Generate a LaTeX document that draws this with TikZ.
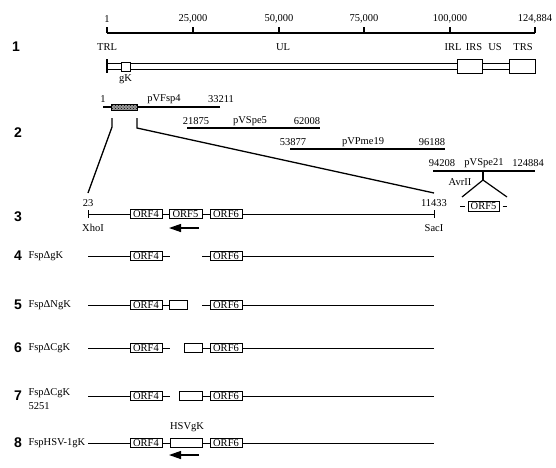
\documentclass[tikz,border=0pt]{standalone}
\usepackage{fontspec}
\setmainfont{Liberation Serif}
\newfontfamily\rowfont{Liberation Sans}
\usetikzlibrary{arrows.meta}
\usetikzlibrary{patterns}

\begin{document}
\begin{tikzpicture}[x=1pt,y=-1pt,line width=1pt,font=\fontsize{10.5}{11}\selectfont,
    lbl/.style={inner sep=0pt},
    num/.style={inner sep=0pt,font=\rowfont\bfseries\fontsize{14}{14}\selectfont},
    orf/.style={draw,fill=white,inner sep=0pt,minimum height=9pt,minimum width=32pt},
    part/.style={draw,fill=white,inner sep=0pt,minimum height=9pt},
    clone/.style={line width=1.1pt},
    dir/.style={-{Triangle[length=12pt,width=8pt]},line width=1.3pt}]
    \useasboundingbox (0,0) rectangle (556,467);
    % row 1: scale and genome
    \node[num] (n1) at (16,47) {1};
    \draw[line width=1.3pt] (107,33) -- (535,33);
    \foreach \x/\xt in {107/1,193/{25,000},279/{50,000},364/{75,000},450/{100,000},535/{124,884}}
        \draw[line width=1.3pt] (\x,33) -- (\x,27) node[lbl] at (\x,19) {\xt};
    \foreach \x/\t in {107/TRL,283/UL,453/IRL,474/IRS,495/US,523/TRS}
        \node[lbl] at (\x,47) {\t};
    \draw (107,63) rectangle (457,69) (482,63) rectangle (509,69);
    \node[part,minimum width=25pt,minimum height=14pt] (irs) at (469.5,66) {};
    \node[part,minimum width=26pt,minimum height=14pt] (trs) at (522,66) {};
    \draw[line width=1.3pt] (107,59) -- (107,73);
    \node[part,minimum width=9pt] (gk) at (125.5,66.5) {};
    \node[lbl] at (125.5,79) {gK};
    % row 2: clones
    \node[num] (n2) at (18,133) {2};
    \draw[clone] (103,107) -- (220,107);
    \node[draw,fill=gray!80,postaction={pattern=crosshatch dots},inner sep=0pt,
        minimum width=26pt,minimum height=6pt] (fsp) at (124,107) {};
    \node[lbl] at (103,99) {1};
    \node[lbl] at (164,99) {pVFsp4};
    \node[lbl] at (221,99) {33211};
    \draw[clone] (187,128) -- (320,128);
    \node[lbl] at (196,121) {21875};
    \node[lbl] at (250,121) {pVSpe5};
    \node[lbl] at (307,121) {62008};
    \draw[clone] (290,149) -- (445,149);
    \node[lbl] at (293,142) {53877};
    \node[lbl] at (363,142) {pVPme19};
    \node[lbl] at (432,142) {96188};
    \draw[clone] (433,171) -- (535,171);
    \node[lbl] at (442,163) {94208};
    \node[lbl] at (484,163) {pVSpe21};
    \node[lbl] at (528,163) {124884};
    % AvrII insertion
    \coordinate (avr) at (483,180);
    \draw[line width=1.2pt] (483,171) -- (avr);
    \draw[line width=1.2pt] (462,197) -- (avr) -- (507,197);
    \node[lbl] at (460,182) {AvrII};
    \node[part,minimum width=31pt,minimum height=10pt] (orf5b) at (483.5,206.5) {ORF5};
    \draw ([xshift=-3pt]orf5b.west) -- ++(-5,0) ([xshift=3pt]orf5b.east) -- ++(4,0);
    % row 3: fragment
    \node[num] (n3) at (18,217) {3};
    \coordinate (xho) at (88,214);
    \coordinate (sac) at (434,214);
    \draw[line width=1.3pt] (112,118) -- (112,127) -- (88,193);
    \draw[line width=1.3pt] (137,118) -- (137,128) -- (434,193);
    \node[orf] (o43) at (146,214) {ORF4};
    \node[part,minimum width=33pt] (o53) at (185.5,214) {ORF5};
    \node[orf] (o63) at (226,214) {ORF6};
    \draw (xho) -- (o43) (o43) -- (o53) (o53) -- (o63) (o63) -- (sac);
    \draw ([yshift=4pt]xho) -- ([yshift=-4pt]xho) ([yshift=4pt]sac) -- ([yshift=-4pt]sac);
    \node[lbl] at (88,203) {23};
    \node[lbl] at (93,228) {XhoI};
    \node[lbl] at (434,203) {11433};
    \node[lbl] at (434,228) {SacI};
    \draw[dir] (199,228) -- (169,228);
    % rows 4-8: mutants
    \foreach \n/\y in {4/256,5/305,6/348,7/396,8/443} {
        \node[num] (n\n) at (18,\y) {\n};
        \node[orf] (a\n) at (146,\y) {ORF4};
        \node[orf] (b\n) at (226,\y) {ORF6};
        \draw (88,\y) -- (a\n) (b\n) -- (434,\y);
    }
    \node[lbl,anchor=west] at (28,256) {FspΔgK};
    \draw (a4) -- (170,256) (202,256) -- (b4);
    \node[lbl,anchor=west] at (28,305) {FspΔNgK};
    \node[part,minimum width=18pt] (c5) at (178,305) {};
    \draw (a5) -- (c5) (202,305) -- (b5);
    \node[lbl,anchor=west] at (28,348) {FspΔCgK};
    \node[part,minimum width=18pt] (c6) at (193,348) {};
    \draw (a6) -- (170,348) (c6) -- (b6);
    \node[lbl,anchor=west] at (28,393) {FspΔCgK};
    \node[lbl,anchor=west] at (28,406) {5251};
    \node[part,minimum width=23pt] (c7) at (190.5,396) {};
    \draw (a7) -- (170,396) (c7) -- (b7);
    \node[lbl,anchor=west] at (28,443) {FspHSV-1gK};
    \node[part,minimum width=32pt] (c8) at (186,443) {};
    \draw (a8) -- (c8) -- (b8);
    \node[lbl] at (187,427) {HSVgK};
    \draw[dir] (199,455) -- (169,455);
\end{tikzpicture}
\end{document}
